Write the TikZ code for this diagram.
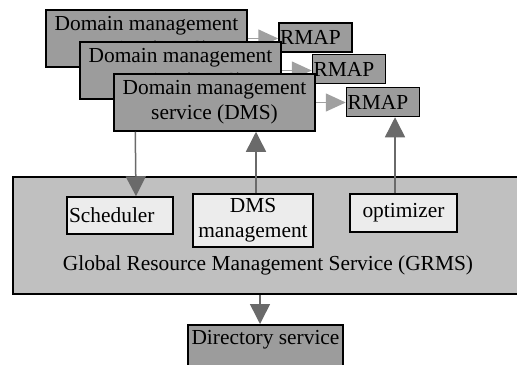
\documentclass[tikz,border=0pt]{standalone}
\usepackage{fontspec}
\setmainfont{Liberation Serif}
\usetikzlibrary{arrows.meta,calc}
\definecolor{boxgray}{HTML}{9C9C9C}
\definecolor{grmsgray}{HTML}{C0C0C0}
\definecolor{innergray}{HTML}{ECECEC}
\definecolor{arrowdark}{HTML}{6A6A6A}
\definecolor{arrowlight}{HTML}{A0A0A0}

\begin{document}
\begin{tikzpicture}[x=0.5pt,y=-0.5pt,
every node/.style={font=\fontsize{10.7}{12.5}\selectfont},
dmsbox/.style={draw,line width=0.75pt,fill=boxgray,minimum width=100.5pt,minimum height=28.5pt,align=center,inner sep=1pt},
rmapbox/.style={draw,line width=0.75pt,fill=boxgray,minimum width=36.5pt,minimum height=14.5pt,inner sep=0.5pt,text width=35.5pt,align=left},
innerbox/.style={draw,line width=0.75pt,fill=innergray,inner sep=1pt},
darrow/.style={draw=arrowdark,line width=0.75pt,-{Triangle[length=10pt,width=10pt]},arrowdark},
larrow/.style={draw=arrowlight,line width=0.75pt,-{Triangle[length=10pt,width=9pt]},arrowlight}]
\useasboundingbox (0,0) rectangle (517,364);
% domain management services with their RMAPs
\node[dmsbox](dms1) at (146.5,38.5){Domain management\\service (DMS)};
\node[rmapbox](rmap1) at (315.5,37.5){RMAP};
\draw[larrow](dms1.east)--(dms1.east -| rmap1.west);
\node[dmsbox](dms2) at (180.5,70.5){Domain management\\service (DMS)};
\node[rmapbox](rmap2) at (349,69){RMAP};
\draw[larrow](dms2.east)--(dms2.east -| rmap2.west);
\node[dmsbox](dms3) at (214.5,102.5){Domain management\\service (DMS)};
\node[rmapbox](rmap3) at (383,102){RMAP};
\draw[larrow](dms3.east)--(dms3.east -| rmap3.west);
% GRMS
\node[draw,line width=0.75pt,fill=grmsgray,minimum width=253.5pt,minimum height=58.5pt](grms) at (266.5,235.5){};
\node[innerbox,minimum width=53pt,minimum height=18.5pt,text width=51pt,align=left](sched) at (120,215.5){Scheduler};
\node[innerbox,minimum width=60pt,minimum height=26.5pt,align=center](dmsmgmt) at (253,220.5){DMS\\management};
\node[innerbox,minimum width=53.5pt,minimum height=19pt](opt) at (403.5,213){optimizer};
\node(grmslabel) at (268,265){Global Resource Management Service (GRMS)};
\node[draw,line width=0.75pt,fill=boxgray,anchor=north,minimum width=77.5pt,text height=8pt,text depth=14pt,inner ysep=2pt,inner xsep=1pt](dir) at (265.5,324){Directory service};
% connectors
\draw[darrow]([xshift=11pt]dms3.south west)--([xshift=8pt]sched.north);
\draw[darrow]([xshift=1.5pt]dmsmgmt.north)--([xshift=1.5pt]dmsmgmt.north |- dms3.south);
\draw[darrow]([xshift=-4.25pt]opt.north)--([xshift=-4.25pt]opt.north |- rmap3.south);
\draw[darrow]([xshift=-2.75pt]dir.north |- grms.south)--([xshift=-2.75pt]dir.north);
\end{tikzpicture}
\end{document}
